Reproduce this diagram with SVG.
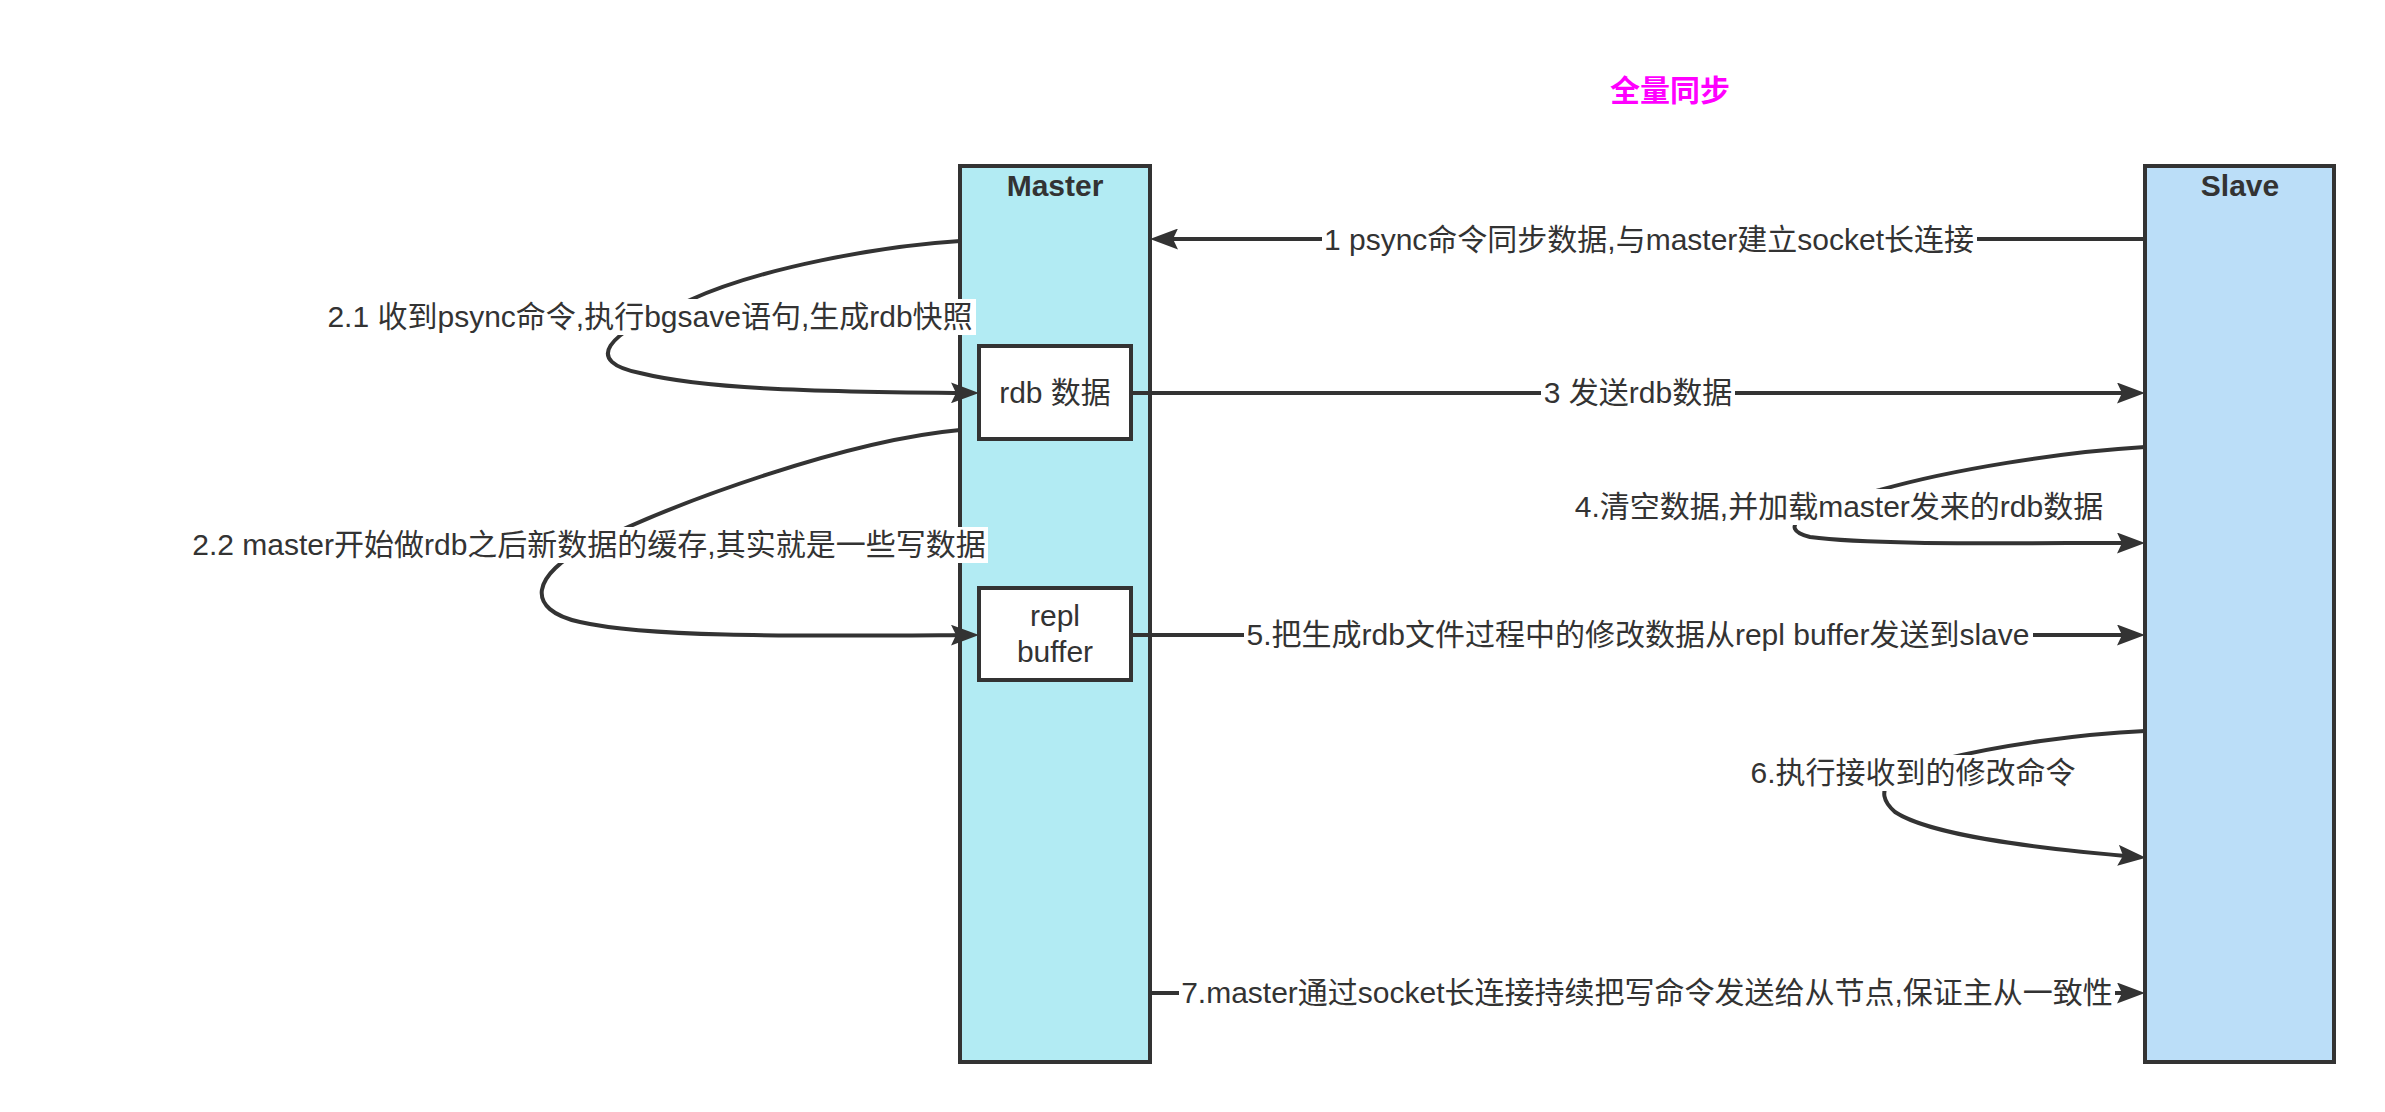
<svg xmlns="http://www.w3.org/2000/svg" width="2385" height="1112" viewBox="0 0 2385 1112">
<style>
.t{font-family:"Liberation Sans","Noto Sans CJK SC",sans-serif;font-size:30px;fill:#333333;text-anchor:middle}
.b{font-weight:bold}
.ttl{font-family:"Liberation Sans","Noto Sans CJK SC",sans-serif;font-size:30px;font-weight:bold;fill:#FF00FF;text-anchor:middle}
.box{stroke:#333333;stroke-width:4}
.ln{fill:none;stroke:#333333;stroke-width:4;marker-end:url(#arr)}
.bg{fill:#ffffff}
</style>
<defs>
<marker id="arr" markerUnits="userSpaceOnUse" markerWidth="28" markerHeight="21" viewBox="0 0 28 21" refX="20" refY="10.5" orient="auto">
<path d="M0,0 L28,10.5 L0,21 L5,10.5 Z" fill="#333333"/>
</marker>
</defs>
<rect width="2385" height="1112" fill="#ffffff"/>
<text class="ttl" x="1670" y="101">全量同步</text>
<g id="master">
<rect class="box" x="960" y="166" width="190" height="896" fill="#B2EBF3"/>
<text class="t b" x="1055" y="196">Master</text>
</g>
<g id="slave">
<rect class="box" x="2145" y="166" width="189" height="896" fill="#BBDEF8"/>
<text class="t b" x="2240" y="196">Slave</text>
</g>
<g id="rdb">
<rect class="box" x="979" y="346" width="152" height="93" fill="#ffffff"/>
<text class="t" x="1055" y="403">rdb 数据</text>
</g>
<g id="repl">
<rect class="box" x="979" y="588" width="152" height="92" fill="#ffffff"/>
<text class="t" x="1055" y="626">repl</text>
<text class="t" x="1055" y="662">buffer</text>
</g>
<g id="connectors">
<path class="ln" d="M2145,239 L1158,239"/>
<path class="ln" d="M960,241 C880,246 760,268 690,300 C600,335 585,362 640,373 C700,388 800,392 971,393"/>
<path class="ln" d="M1131,393 L2137,393"/>
<path class="ln" d="M960,430 C850,440 680,500 590,545 C530,575 525,610 580,622 C650,638 800,636 971,635"/>
<path class="ln" d="M2145,447 C2060,452 1950,470 1880,490 C1800,510 1775,528 1810,537 C1870,545 2000,543 2137,543"/>
<path class="ln" d="M1131,635 L2137,635"/>
<path class="ln" d="M2145,731 C2080,734 2000,745 1940,760 C1890,772 1870,790 1895,812 C1930,835 2030,848 2138,857"/>
<path class="ln" d="M1150,993 L2137,993"/>
<g id="labels">
<rect class="bg" x="1322" y="222" width="655" height="36"/>
<text class="t" x="1649" y="250">1 psync命令同步数据,与master建立socket长连接</text>
<rect class="bg" x="325" y="299" width="651" height="36"/>
<text class="t" x="650" y="327">2.1 收到psync命令,执行bgsave语句,生成rdb快照</text>
<rect class="bg" x="1541" y="375" width="194" height="36"/>
<text class="t" x="1638" y="403">3 发送rdb数据</text>
<rect class="bg" x="190" y="527" width="798" height="36"/>
<text class="t" x="589" y="555">2.2 master开始做rdb之后新数据的缓存,其实就是一些写数据</text>
<rect class="bg" x="1572" y="489" width="534" height="36"/>
<text class="t" x="1839" y="517">4.清空数据,并加载master发来的rdb数据</text>
<rect class="bg" x="1244" y="617" width="789" height="36"/>
<text class="t" x="1638" y="645">5.把生成rdb文件过程中的修改数据从repl buffer发送到slave</text>
<rect class="bg" x="1748" y="755" width="331" height="36"/>
<text class="t" x="1913" y="783">6.执行接收到的修改命令</text>
<rect class="bg" x="1179" y="975" width="936" height="36"/>
<text class="t" x="1647" y="1003">7.master通过socket长连接持续把写命令发送给从节点,保证主从一致性</text>
</g>
</g>
</svg>
